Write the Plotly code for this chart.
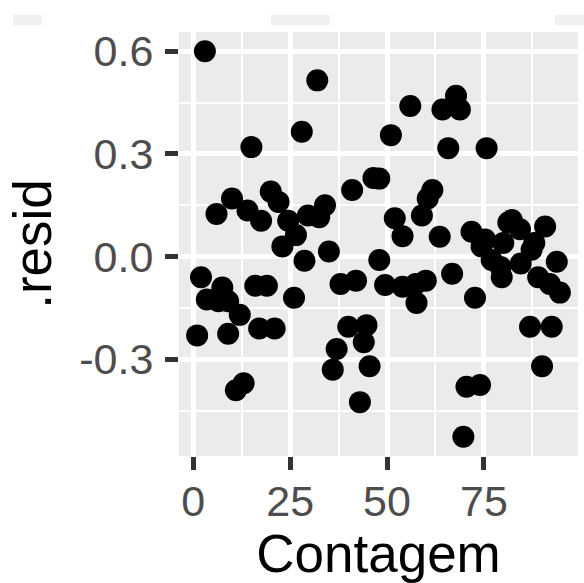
import plotly.graph_objects as go

# Data
contagem = [1, 2, 3, 3.5, 6, 6.5, 7.5, 9, 9, 10, 11, 12, 13, 14, 15, 16, 17, 17.5, 19, 20,
            21, 22, 23, 24.5, 26, 26.5, 28, 28.7, 29.6, 32, 32.5, 34, 35, 36, 37, 38, 40, 41, 42, 43,
            44, 44.7, 45.5, 46.5, 48, 48, 49.5, 51, 52, 54, 54, 56, 57.4, 57.6, 59, 60, 60.5, 61.7, 63.6, 64.3,
            65.8, 66.8, 67.8, 68.8, 69.7, 70.5, 71.8, 72.7, 74, 74.4, 75.3, 75.7, 77, 79.3, 79.6, 80, 81.3, 82.2, 84.3, 84.5,
            86.9, 87.3, 88, 89, 90, 90.8, 92, 92.5, 93.8, 94.6]
resid = [-0.23, -0.06, 0.60, -0.125, 0.125, -0.13, -0.09, -0.13, -0.225, 0.17, -0.39, -0.17, -0.37, 0.135, 0.32, -0.085, -0.21, 0.105, -0.085, 0.19,
         -0.21, 0.16, 0.03, 0.105, -0.12, 0.063, 0.365, -0.012, 0.12, 0.515, 0.115, 0.15, 0.015, -0.33, -0.27, -0.08, -0.205, 0.195, -0.07, -0.425,
         -0.25, -0.2, -0.32, 0.23, 0.228, -0.01, -0.083, 0.355, 0.112, 0.06, -0.088, 0.44, -0.08, -0.135, 0.12, -0.07, 0.17, 0.195, 0.058, 0.43,
         0.317, -0.05, 0.47, 0.43, -0.526, -0.38, 0.073, -0.12, -0.375, 0.03, 0.05, 0.317, -0.01, -0.03, -0.06, 0.04, 0.1, 0.107, 0.08, -0.02,
         -0.205, 0.02, 0.04, -0.06, -0.32, 0.088, -0.08, -0.205, -0.015, -0.105]

x_ticks = [0, 25, 50, 75]
x_tick_text = ["0", "25", "50", "75"]
y_ticks = [-0.3, 0.0, 0.3, 0.6]
y_tick_text = ["-0.3", "0.0", "0.3", "0.6"]


def expand(vals, mult=0.05):
    lo, hi = min(vals), max(vals)
    d = (hi - lo) * mult
    return [lo - d, hi + d]


fig = go.Figure()
fig.add_trace(go.Scatter(
    x=contagem, y=resid, mode="markers",
    marker=dict(color="black", size=22, line=dict(width=0)),
    hoverinfo="skip", showlegend=False,
))

tick_font = dict(family="Liberation Sans, Arial, sans-serif", size=43, color="#4D4D4D")
title_font = dict(family="Liberation Sans, Arial, sans-serif", size=53, color="black")

fig.update_xaxes(
    range=expand(contagem), tickvals=x_ticks, ticktext=x_tick_text,
    showgrid=True, gridcolor="white", gridwidth=4.5, zeroline=False,
    minor=dict(dtick=12.5, tick0=0, showgrid=True, gridcolor="white", gridwidth=2.3, ticks=""),
    ticks="outside", ticklen=13, tickwidth=4.5, tickcolor="#333333",
    tickfont=tick_font, showline=False, ticklabelstandoff=-6,
    title=dict(text="Contagem", font=title_font, standoff=8),
)
fig.update_yaxes(
    range=expand(resid), tickvals=y_ticks, ticktext=y_tick_text,
    showgrid=True, gridcolor="white", gridwidth=4.5, zeroline=False,
    minor=dict(dtick=0.15, tick0=0, showgrid=True, gridcolor="white", gridwidth=2.3, ticks=""),
    ticks="outside", ticklen=13, tickwidth=4.5, tickcolor="#333333",
    tickfont=tick_font, showline=False, ticklabelstandoff=3,
    title=dict(text=".resid", font=title_font, standoff=10),
)

# faint cropped remnants at the top of the picture
L, R, T, B = 179, 6, 32, 127
W, H = 584, 583
pw, ph = W - L - R, H - T - B
for x0, x1 in [(13, 42), (271, 330), (555, 584)]:
    fig.add_shape(type="rect", xref="paper", yref="paper",
                  x0=(x0 - L) / pw, x1=(x1 - L) / pw,
                  y0=(H - B - 25) / ph, y1=(H - B - 15) / ph,
                  fillcolor="#f0f0f0", line=dict(width=0), layer="above")

fig.update_layout(
    width=W, height=H,
    margin=dict(l=L, r=R, t=T, b=B),
    plot_bgcolor="#EBEBEB", paper_bgcolor="white",
)

fig.write_html("out.html")
